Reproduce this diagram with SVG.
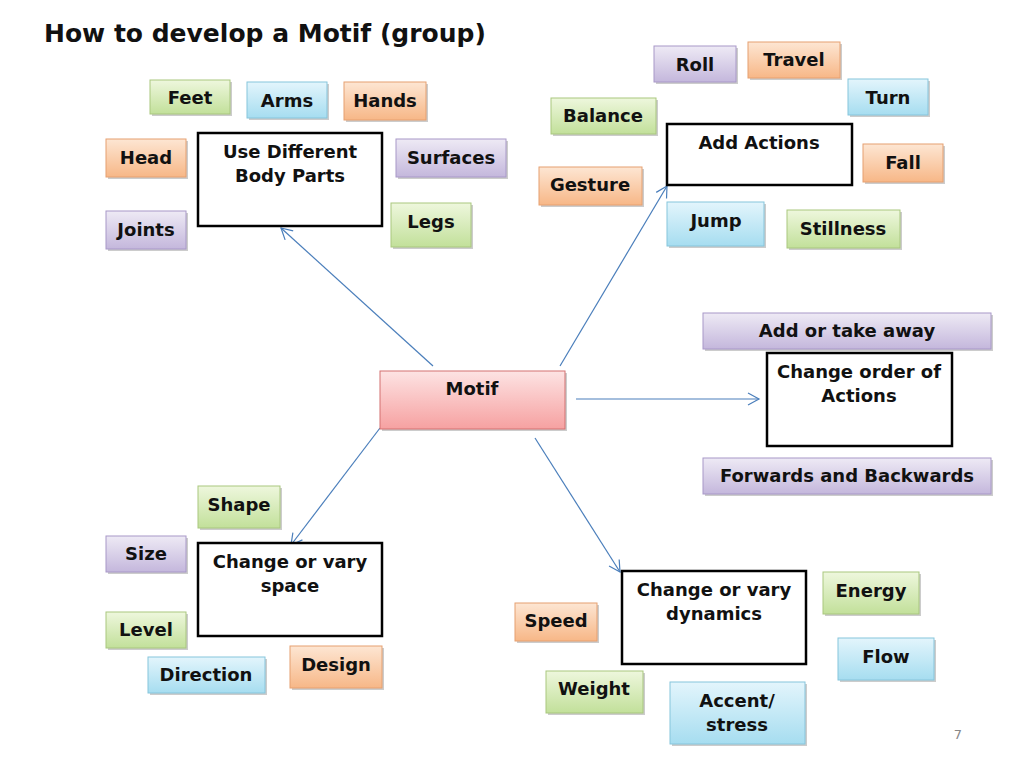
<svg xmlns="http://www.w3.org/2000/svg" width="1024" height="768" viewBox="0 0 1024 768">
<defs>
<linearGradient id="g" x1="0" y1="0" x2="0" y2="1"><stop offset="0" stop-color="#eef7dd"/><stop offset="1" stop-color="#c2e09a"/></linearGradient>
<linearGradient id="b" x1="0" y1="0" x2="0" y2="1"><stop offset="0" stop-color="#e3f5fc"/><stop offset="1" stop-color="#a6ddf0"/></linearGradient>
<linearGradient id="o" x1="0" y1="0" x2="0" y2="1"><stop offset="0" stop-color="#fde6d3"/><stop offset="1" stop-color="#f7b787"/></linearGradient>
<linearGradient id="p" x1="0" y1="0" x2="0" y2="1"><stop offset="0" stop-color="#eeeaf5"/><stop offset="1" stop-color="#c4b7dc"/></linearGradient>
<linearGradient id="k" x1="0" y1="0" x2="0" y2="1"><stop offset="0" stop-color="#fde3e3"/><stop offset="1" stop-color="#f6a1a1"/></linearGradient>
<marker id="a" markerWidth="14" markerHeight="14" refX="12" refY="7" orient="auto" markerUnits="userSpaceOnUse"><path d="M1,1 L12,7 L1,13" fill="none" stroke="#4a7ebb" stroke-width="1.2"/></marker>
</defs>
<style>
text{font-family:"DejaVu Sans","Liberation Sans",sans-serif;font-weight:bold;font-size:18px;fill:#111;text-anchor:middle}
.t{stroke-width:1;}
.g{fill:url(#g);stroke:#a9c77e}.b{fill:url(#b);stroke:#86c5dc}.o{fill:url(#o);stroke:#e6a070}.p{fill:url(#p);stroke:#a898c8}.k{fill:url(#k);stroke:#d47070}
.w{fill:#fff;stroke:#000;stroke-width:2.5}
.sh{fill:#999;opacity:.5}
.c{stroke:#4a7ebb;stroke-width:1.2;fill:none;marker-end:url(#a)}
</style>
<rect width="1024" height="768" fill="#fff"/>
<text x="44" y="42" style="font-size:25px;text-anchor:start">How to develop a Motif (group)</text>
<g id="connectors">
<line class="c" x1="433" y1="366" x2="281" y2="228"/>
<line class="c" x1="560" y1="366" x2="667" y2="186"/>
<line class="c" x1="576" y1="399" x2="759" y2="399"/>
<line class="c" x1="380" y1="428" x2="291" y2="545"/>
<line class="c" x1="535" y1="438" x2="620" y2="572"/>
</g>
<g id="feet"><rect class="sh" x="152" y="82" width="80" height="34"/><rect class="g" x="150" y="80" width="80" height="34"/><text x="190" y="104">Feet</text></g>
<g id="arms"><rect class="sh" x="249" y="84" width="80" height="36"/><rect class="b" x="247" y="82" width="80" height="36"/><text x="287" y="107">Arms</text></g>
<g id="hands"><rect class="sh" x="346" y="84" width="82" height="38"/><rect class="o" x="344" y="82" width="82" height="38"/><text x="385" y="107">Hands</text></g>
<g id="head"><rect class="sh" x="108" y="141" width="80" height="38"/><rect class="o" x="106" y="139" width="80" height="38"/><text x="146" y="164">Head</text></g>
<g id="joints"><rect class="sh" x="108" y="213" width="80" height="38"/><rect class="p" x="106" y="211" width="80" height="38"/><text x="146" y="236">Joints</text></g>
<g id="surfaces"><rect class="sh" x="398" y="141" width="110" height="38"/><rect class="p" x="396" y="139" width="110" height="38"/><text x="451" y="164">Surfaces</text></g>
<g id="legs"><rect class="sh" x="393" y="205" width="80" height="44"/><rect class="g" x="391" y="203" width="80" height="44"/><text x="431" y="228">Legs</text></g>
<g id="body"><rect class="w" x="198" y="133" width="184" height="93"/><text x="290" y="158">Use Different</text><text x="290" y="182">Body Parts</text></g>
<g id="roll"><rect class="sh" x="656" y="48" width="82" height="36"/><rect class="p" x="654" y="46" width="82" height="36"/><text x="695" y="71">Roll</text></g>
<g id="travel"><rect class="sh" x="750" y="44" width="92" height="36"/><rect class="o" x="748" y="42" width="92" height="36"/><text x="794" y="66">Travel</text></g>
<g id="balance"><rect class="sh" x="553" y="100" width="105" height="36"/><rect class="g" x="551" y="98" width="105" height="36"/><text x="603" y="122">Balance</text></g>
<g id="turn"><rect class="sh" x="850" y="81" width="80" height="36"/><rect class="b" x="848" y="79" width="80" height="36"/><text x="888" y="104">Turn</text></g>
<g id="gesture"><rect class="sh" x="541" y="169" width="103" height="38"/><rect class="o" x="539" y="167" width="103" height="38"/><text x="590" y="191">Gesture</text></g>
<g id="fall"><rect class="sh" x="865" y="146" width="80" height="38"/><rect class="o" x="863" y="144" width="80" height="38"/><text x="903" y="169">Fall</text></g>
<g id="jump"><rect class="sh" x="669" y="204" width="97" height="44"/><rect class="b" x="667" y="202" width="97" height="44"/><text x="716" y="227">Jump</text></g>
<g id="stillness"><rect class="sh" x="789" y="212" width="113" height="38"/><rect class="g" x="787" y="210" width="113" height="38"/><text x="843" y="235">Stillness</text></g>
<g id="addactions"><rect class="w" x="667" y="124" width="185" height="61"/><text x="759" y="149">Add Actions</text></g>
<g id="addtake"><rect class="sh" x="705" y="315" width="288" height="36"/><rect class="p" x="703" y="313" width="288" height="36"/><text x="847" y="337">Add or take away</text></g>
<g id="order"><rect class="w" x="767" y="353" width="185" height="93"/><text x="859" y="378">Change order of</text><text x="859" y="402">Actions</text></g>
<g id="fwd"><rect class="sh" x="705" y="460" width="288" height="36"/><rect class="p" x="703" y="458" width="288" height="36"/><text x="847" y="482">Forwards and Backwards</text></g>
<g id="motif"><rect class="sh" x="382" y="373" width="185" height="58"/><rect class="k" x="380" y="371" width="185" height="58"/><text x="472" y="395">Motif</text></g>
<g id="shape"><rect class="sh" x="200" y="488" width="82" height="42"/><rect class="g" x="198" y="486" width="82" height="42"/><text x="239" y="511">Shape</text></g>
<g id="size"><rect class="sh" x="108" y="538" width="80" height="36"/><rect class="p" x="106" y="536" width="80" height="36"/><text x="146" y="560">Size</text></g>
<g id="space"><rect class="w" x="198" y="543" width="184" height="93"/><text x="290" y="568">Change or vary</text><text x="290" y="592">space</text></g>
<g id="level"><rect class="sh" x="108" y="614" width="80" height="36"/><rect class="g" x="106" y="612" width="80" height="36"/><text x="146" y="636">Level</text></g>
<g id="direction"><rect class="sh" x="150" y="659" width="117" height="36"/><rect class="b" x="148" y="657" width="117" height="36"/><text x="206" y="681">Direction</text></g>
<g id="design"><rect class="sh" x="292" y="648" width="92" height="42"/><rect class="o" x="290" y="646" width="92" height="42"/><text x="336" y="671">Design</text></g>
<g id="speed"><rect class="sh" x="517" y="605" width="82" height="38"/><rect class="o" x="515" y="603" width="82" height="38"/><text x="556" y="627">Speed</text></g>
<g id="weight"><rect class="sh" x="548" y="673" width="97" height="42"/><rect class="g" x="546" y="671" width="97" height="42"/><text x="594" y="695">Weight</text></g>
<g id="dynamics"><rect class="w" x="622" y="571" width="184" height="93"/><text x="714" y="596">Change or vary</text><text x="714" y="620">dynamics</text></g>
<g id="energy"><rect class="sh" x="825" y="574" width="96" height="42"/><rect class="g" x="823" y="572" width="96" height="42"/><text x="871" y="597">Energy</text></g>
<g id="flow"><rect class="sh" x="840" y="640" width="96" height="42"/><rect class="b" x="838" y="638" width="96" height="42"/><text x="886" y="663">Flow</text></g>
<g id="accent"><rect class="sh" x="672" y="684" width="135" height="62"/><rect class="b" x="670" y="682" width="135" height="62"/><text x="737" y="707">Accent/</text><text x="737" y="731">stress</text></g>
<text x="958" y="739" style="font-weight:normal;font-size:13px;fill:#888">7</text>
</svg>
